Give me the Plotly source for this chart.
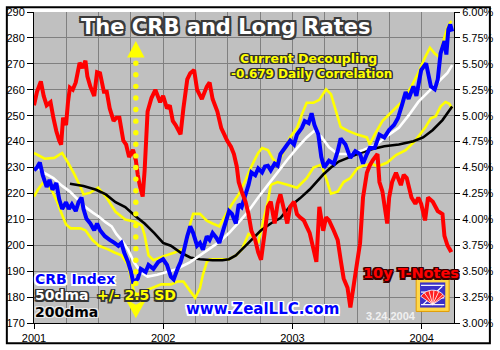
import numpy as np
import plotly.graph_objects as go

# ---- CRB Index (daily close, sampled) ----
crb_t = [2001.000, 2001.023, 2001.045, 2001.068, 2001.098, 2001.120, 2001.143, 2001.173, 2001.195, 2001.218,
         2001.248, 2001.270, 2001.293, 2001.323, 2001.345, 2001.368, 2001.383, 2001.406, 2001.436, 2001.466,
         2001.488, 2001.511, 2001.548, 2001.586, 2001.623, 2001.653, 2001.676, 2001.698, 2001.728, 2001.751,
         2001.766, 2001.788, 2001.803, 2001.826, 2001.864, 2001.886, 2001.924, 2001.961, 2001.999, 2002.029,
         2002.059, 2002.081, 2002.111, 2002.134, 2002.156, 2002.186, 2002.209, 2002.232, 2002.262, 2002.284,
         2002.307, 2002.337, 2002.359, 2002.382, 2002.412, 2002.434, 2002.457, 2002.487, 2002.509, 2002.532,
         2002.562, 2002.584, 2002.607, 2002.637, 2002.660, 2002.682, 2002.712, 2002.735, 2002.765, 2002.787,
         2002.810, 2002.832, 2002.862, 2002.885, 2002.907, 2002.945, 2002.982, 2003.012, 2003.035, 2003.073,
         2003.095, 2003.125, 2003.148, 2003.170, 2003.200, 2003.223, 2003.245, 2003.283, 2003.320, 2003.350,
         2003.373, 2003.410, 2003.448, 2003.486, 2003.523, 2003.546, 2003.576, 2003.598, 2003.636, 2003.673,
         2003.711, 2003.748, 2003.786, 2003.816, 2003.846, 2003.876, 2003.899, 2003.936, 2003.959, 2003.996,
         2004.034, 2004.071, 2004.101, 2004.124, 2004.146, 2004.176, 2004.191, 2004.206, 2004.221, 2004.236]
crb_v = [228.9, 230.0, 231.9, 227.0, 222.5, 225.2, 221.4, 224.0, 217.7, 214.0,
         216.6, 214.0, 215.8, 213.2, 216.6, 218.4, 214.0, 210.2, 208.4, 205.8,
         208.4, 205.8, 203.5, 202.1, 200.9, 199.8, 200.9, 197.2, 193.5, 189.7,
         186.0, 186.4, 187.1, 190.9, 189.7, 192.4, 190.9, 193.5, 194.6, 192.4,
         187.9, 186.8, 190.9, 193.5, 197.2, 203.5, 207.3, 204.7, 199.8, 200.9,
         198.3, 203.5, 202.1, 204.7, 202.8, 200.9, 204.7, 209.5, 213.2, 212.1,
         208.4, 215.8, 214.7, 219.6, 223.3, 228.1, 227.0, 229.6, 228.1, 230.4,
         230.7, 228.9, 231.5, 230.7, 235.2, 237.8, 240.4, 238.9, 242.7, 245.3,
         247.9, 247.1, 250.9, 246.4, 242.7, 234.1, 230.0, 232.6, 231.5, 236.3,
         241.2, 238.9, 233.7, 236.3, 235.2, 231.5, 235.2, 237.5, 237.5, 242.7,
         241.6, 244.5, 246.4, 249.0, 253.9, 259.1, 256.5, 261.3, 257.6, 267.6,
         270.2, 261.3, 260.2, 263.9, 274.0, 278.8, 273.6, 283.3, 285.2, 282.5]

# ---- 50-day moving average ----
dma50_t = [2001.008, 2001.083, 2001.150, 2001.218, 2001.278, 2001.338, 2001.398, 2001.458, 2001.503, 2001.556,
           2001.601, 2001.638, 2001.676, 2001.728, 2001.773, 2001.826, 2001.879, 2001.954, 2002.029, 2002.089,
           2002.134, 2002.209, 2002.284, 2002.359, 2002.434, 2002.509, 2002.584, 2002.660, 2002.735, 2002.810,
           2002.885, 2002.960, 2003.035, 2003.110, 2003.170, 2003.223, 2003.283, 2003.350, 2003.448, 2003.546,
           2003.651, 2003.748, 2003.823, 2003.899, 2003.974, 2004.049, 2004.124, 2004.199, 2004.236]
dma50_v = [230.4, 227.8, 225.9, 222.9, 220.7, 217.7, 214.7, 212.5, 211.0, 208.8,
           207.3, 204.3, 202.1, 198.3, 193.5, 189.7, 187.9, 188.6, 189.7, 190.5,
           191.6, 193.5, 196.1, 198.7, 201.3, 204.7, 208.8, 213.2, 218.4, 223.3,
           228.1, 233.0, 237.5, 241.6, 244.2, 241.9, 237.8, 235.2, 235.2, 236.7,
           238.9, 242.7, 245.3, 250.1, 255.3, 259.1, 262.8, 266.5, 269.5]

# ---- 200-day moving average ----
dma200_t = [2001.278, 2001.383, 2001.481, 2001.556, 2001.631, 2001.706, 2001.781, 2001.856, 2001.931, 2001.999,
            2002.059, 2002.134, 2002.209, 2002.284, 2002.382, 2002.457, 2002.509, 2002.562, 2002.607, 2002.660,
            2002.712, 2002.757, 2002.832, 2002.907, 2002.982, 2003.058, 2003.133, 2003.185, 2003.238, 2003.298,
            2003.358, 2003.448, 2003.523, 2003.621, 2003.711, 2003.823, 2003.936, 2004.011, 2004.086, 2004.161,
            2004.236]
dma200_v = [223.7, 222.9, 221.4, 219.6, 216.6, 214.7, 211.4, 208.4, 204.7, 200.9,
            199.8, 197.2, 195.3, 194.6, 194.2, 194.2, 194.6, 196.1, 198.3, 200.9,
            203.5, 205.8, 208.4, 210.5, 215.1, 218.1, 221.5, 224.4, 227.3, 230.0,
            232.3, 234.1, 235.6, 237.1, 238.2, 238.9, 240.1, 241.6, 244.5, 248.3,
            253.5]

# ---- 50dma +2.5 SD band ----
upper_t = [2001.000, 2001.083, 2001.158, 2001.218, 2001.255, 2001.308, 2001.360, 2001.383, 2001.436, 2001.496,
           2001.556, 2001.631, 2001.706, 2001.781, 2001.834, 2001.856, 2001.886, 2001.924, 2001.999, 2002.089,
           2002.156, 2002.186, 2002.209, 2002.232, 2002.284, 2002.337, 2002.382, 2002.434, 2002.487, 2002.532,
           2002.584, 2002.637, 2002.675, 2002.712, 2002.735, 2002.765, 2002.810, 2002.847, 2002.885, 2002.937,
           2002.982, 2003.035, 2003.073, 2003.110, 2003.163, 2003.208, 2003.260, 2003.298, 2003.335, 2003.373,
           2003.426, 2003.501, 2003.576, 2003.598, 2003.636, 2003.696, 2003.771, 2003.846, 2003.921, 2003.974,
           2004.026, 2004.064, 2004.101, 2004.139, 2004.161, 2004.199, 2004.229]
upper_v = [235.6, 233.4, 233.7, 235.6, 232.6, 227.8, 222.5, 219.6, 220.3, 222.2,
           218.8, 212.9, 209.9, 209.1, 207.6, 203.9, 196.1, 194.2, 195.7, 197.2,
           198.7, 202.1, 208.4, 212.1, 212.1, 209.5, 208.4, 207.3, 212.1, 215.8,
           219.6, 225.2, 229.6, 233.4, 235.6, 237.5, 236.7, 233.4, 231.5, 236.7,
           241.6, 245.3, 250.5, 255.0, 255.0, 256.1, 260.2, 258.3, 252.0, 245.7,
           244.2, 242.7, 241.6, 238.9, 242.7, 247.9, 251.6, 255.3, 261.3, 266.5,
           272.5, 276.2, 274.0, 272.5, 277.7, 284.0, 286.6]

# ---- 50dma -2.5 SD band ----
lower_t = [2001.000, 2001.030, 2001.068, 2001.105, 2001.143, 2001.180, 2001.218, 2001.248, 2001.285, 2001.360,
           2001.398, 2001.451, 2001.503, 2001.578, 2001.623, 2001.676, 2001.728, 2001.751, 2001.781, 2001.834,
           2001.909, 2001.984, 2002.059, 2002.111, 2002.156, 2002.209, 2002.247, 2002.284, 2002.307, 2002.337,
           2002.359, 2002.434, 2002.509, 2002.562, 2002.607, 2002.660, 2002.690, 2002.735, 2002.757, 2002.787,
           2002.810, 2002.832, 2002.885, 2002.960, 2003.035, 2003.110, 2003.163, 2003.223, 2003.260, 2003.298,
           2003.350, 2003.396, 2003.448, 2003.501, 2003.546, 2003.613, 2003.658, 2003.733, 2003.801, 2003.876,
           2003.951, 2004.026, 2004.071, 2004.109, 2004.146, 2004.184, 2004.214, 2004.236]
lower_v = [218.8, 221.4, 224.0, 223.3, 220.7, 216.6, 211.7, 208.0, 206.5, 206.5,
           205.8, 202.1, 199.8, 198.3, 197.2, 196.1, 192.4, 187.1, 180.4, 181.9,
           183.4, 184.9, 184.9, 186.0, 186.0, 182.3, 179.7, 183.4, 188.6, 193.5,
           194.6, 194.6, 194.6, 196.1, 198.3, 204.3, 203.5, 200.9, 205.8, 212.1,
           217.0, 223.3, 224.4, 223.3, 222.2, 225.9, 230.0, 231.1, 225.9, 219.9,
           220.7, 224.4, 225.9, 229.6, 230.7, 231.5, 230.4, 231.9, 234.8, 236.7,
           240.4, 245.3, 249.0, 249.8, 253.5, 255.3, 254.6, 252.7]

# ---- 10-year Treasury note yield (%) ----
rate_t = [2001.000, 2001.023, 2001.053, 2001.075, 2001.098, 2001.128, 2001.150, 2001.173, 2001.195, 2001.210,
          2001.225, 2001.248, 2001.263, 2001.278, 2001.300, 2001.323, 2001.353, 2001.375, 2001.398, 2001.413,
          2001.436, 2001.466, 2001.488, 2001.511, 2001.541, 2001.563, 2001.586, 2001.616, 2001.638, 2001.661,
          2001.691, 2001.713, 2001.736, 2001.766, 2001.788, 2001.803, 2001.818, 2001.841, 2001.856, 2001.879,
          2001.909, 2001.939, 2001.976, 2001.999, 2002.029, 2002.051, 2002.074, 2002.096, 2002.134, 2002.156,
          2002.186, 2002.209, 2002.239, 2002.262, 2002.299, 2002.337, 2002.359, 2002.382, 2002.419, 2002.449,
          2002.472, 2002.494, 2002.524, 2002.547, 2002.569, 2002.584, 2002.607, 2002.637, 2002.660, 2002.682,
          2002.712, 2002.735, 2002.757, 2002.787, 2002.810, 2002.832, 2002.862, 2002.885, 2002.907, 2002.937,
          2002.960, 2002.982, 2003.012, 2003.035, 2003.058, 2003.088, 2003.110, 2003.133, 2003.163, 2003.185,
          2003.208, 2003.238, 2003.260, 2003.283, 2003.320, 2003.350, 2003.373, 2003.396, 2003.426, 2003.448,
          2003.471, 2003.501, 2003.523, 2003.546, 2003.576, 2003.598, 2003.621, 2003.658, 2003.673, 2003.696,
          2003.733, 2003.748, 2003.771, 2003.801, 2003.839, 2003.861, 2003.884, 2003.921, 2003.951, 2003.974,
          2003.996, 2004.026, 2004.049, 2004.086, 2004.124, 2004.161, 2004.176, 2004.199, 2004.221, 2004.236]
rate_v = [5.10, 5.23, 5.33, 5.19, 5.10, 5.13, 4.98, 4.85, 4.76, 4.72,
          4.98, 4.91, 5.13, 5.27, 5.25, 5.32, 5.51, 5.46, 5.53, 5.38,
          5.28, 5.19, 5.42, 5.41, 5.23, 5.23, 5.07, 4.95, 4.98, 4.98,
          4.76, 4.72, 4.60, 4.67, 4.57, 4.43, 4.33, 4.22, 4.47, 5.04,
          5.17, 5.25, 5.13, 5.19, 5.07, 5.10, 4.95, 4.91, 4.82, 5.07,
          5.35, 5.41, 5.44, 5.25, 5.16, 5.28, 5.32, 5.16, 5.04, 4.88,
          4.82, 4.76, 4.70, 4.63, 4.51, 4.36, 4.27, 4.17, 4.05, 3.89,
          3.80, 3.68, 3.61, 3.89, 4.12, 4.17, 3.96, 4.15, 4.24, 4.08,
          3.96, 4.12, 4.17, 4.05, 4.02, 3.99, 3.93, 3.87, 3.71, 3.59,
          4.12, 3.89, 4.02, 3.99, 3.89, 3.80, 3.61, 3.43, 3.34, 3.15,
          3.34, 3.59, 3.77, 4.21, 4.45, 4.52, 4.57, 4.63, 4.36, 4.27,
          3.96, 4.21, 4.36, 4.45, 4.33, 4.43, 4.40, 4.21, 4.15, 4.21,
          4.15, 3.99, 4.21, 4.17, 4.08, 4.05, 3.84, 3.75, 3.70, 3.71]

year_ticks = [2001, 2002, 2003, 2004]

# ---- canvas geometry ----
W, H = 500, 350
ML, MR, MT, MB = 29, 38, 6, 22
PW, PH = W - ML - MR, H - MT - MB


def px(x):
    """pixel column -> paper x"""
    return (x - ML) / PW


def py(y):
    """pixel row -> paper y"""
    return (H - MB - y) / PH


def halo(color, w=1.5):
    offs = [(-w, -w), (w, -w), (-w, w), (w, w), (0, w), (w, 0), (0, -w), (-w, 0)]
    return ", ".join(f"{dx}px {dy}px 0 {color}" for dx, dy in offs)


fig = go.Figure()

line_traces = [
    (upper_t, upper_v, "#ffff00", 2.6),
    (lower_t, lower_v, "#ffff00", 2.6),
    (dma200_t, dma200_v, "#000000", 2.6),
    (dma50_t, dma50_v, "#ffffff", 2.6),
    (crb_t, crb_v, "#0000ff", 4),
]
for tx, vy, col, wd in line_traces:
    fig.add_trace(go.Scatter(x=tx, y=vy, mode="lines", line=dict(color=col, width=wd, simplify=False),
                             hoverinfo="skip"))

fig.add_trace(go.Scatter(x=rate_t, y=rate_v, yaxis="y2", mode="lines",
                         line=dict(color="#ff0000", width=4, simplify=False), hoverinfo="skip"))

grid = "#808080"
fig.update_layout(
    width=W, height=H,
    margin=dict(l=ML, r=MR, t=MT, b=MB),
    paper_bgcolor="white",
    plot_bgcolor="#c0c0c0",
    showlegend=False,
    font=dict(family="Liberation Sans, Arial, sans-serif", size=11, color="black"),
    xaxis=dict(range=[2001, 2004.25], tickmode="linear", tick0=2001, dtick=1, tickformat="d",
               ticks="outside", ticklen=5, tickcolor="black", showline=True, linecolor="black",
               linewidth=1, showgrid=True, gridcolor=grid, gridwidth=1, zeroline=False,
               ticklabeloverflow="allow",
               minor=dict(tick0=2001, dtick=0.25, showgrid=True, gridcolor=grid, gridwidth=1)),
    yaxis=dict(range=[170, 290], tick0=170, dtick=10, ticks="outside", ticklen=6,
               tickcolor="black", showline=True, linecolor="black", linewidth=1,
               showgrid=True, gridcolor=grid, gridwidth=1, zeroline=False,
               ticklabeloverflow="allow"),
    yaxis2=dict(range=[3, 6], tick0=3, dtick=0.25, overlaying="y", side="right",
                tickformat=".2f", ticksuffix="%", ticks="outside", ticklen=5,
                tickcolor="black", showline=True, linecolor="black", linewidth=1,
                showgrid=False, zeroline=False, ticklabeloverflow="allow"),
)

bold = "DejaVu Sans, Verdana, sans-serif"
dark = "#333333"
anns = [
    dict(text="The CRB and Long Rates", x=px(226), y=py(22), xanchor="center", yanchor="middle",
         font=dict(family=bold, size=21, color="white", weight="bold", shadow=halo("#3a3a3a", 2))),
    dict(text="Current Decoupling", x=px(312), y=py(54), xanchor="center", yanchor="middle",
         font=dict(family=bold, size=12.5, color="#ffff00", weight="bold", shadow=halo(dark, 1.3))),
    dict(text="-0.679 Daily Correlation", x=px(315), y=py(70), xanchor="center", yanchor="middle",
         font=dict(family=bold, size=12, color="#ffff00", weight="bold", shadow=halo(dark, 1.3))),
    dict(text="CRB Index", x=px(28), y=py(282), xanchor="left", yanchor="middle",
         font=dict(family=bold, size=14, color="#0000ff", weight="bold", shadow=halo("#ffffff", 1.5))),
    dict(text="50dma", x=px(28), y=py(299.5), xanchor="left", yanchor="middle",
         font=dict(family=bold, size=14, color="white", weight="bold", shadow=halo(dark, 1.5))),
    dict(text="+/- 2.5 SD", x=px(92), y=py(299.5), xanchor="left", yanchor="middle",
         font=dict(family=bold, size=14, color="#ffff00", weight="bold", shadow=halo(dark, 1.5))),
    dict(text="200dma", x=px(28), y=py(317), xanchor="left", yanchor="middle",
         font=dict(family=bold, size=14, color="black", weight="bold", shadow=halo("#e8e8e8", 1.2))),
    dict(text="www.ZealLLC.com", x=px(265), y=py(313), xanchor="center", yanchor="middle",
         font=dict(family=bold, size=15, color="#0000ff", weight="bold", shadow=halo("#ffffff", 1.5))),
    dict(text="10y T-Notes", x=px(418), y=py(276), xanchor="center", yanchor="middle",
         font=dict(family=bold, size=14.5, color="#ff0000", weight="bold", shadow=halo("#3a0000", 1.5))),
    dict(text="3.24.2004", x=px(397), y=py(321), xanchor="center", yanchor="middle",
         font=dict(family="Liberation Sans, Arial, sans-serif", size=11, color="#f0f0f0",
                   weight="bold")),
]
for a in anns:
    a.update(xref="paper", yref="paper", showarrow=False)
fig.update_layout(annotations=anns)


def path(points, close=True):
    s = "M " + " L ".join(f"{px(x):.5f},{py(y):.5f}" for x, y in points)
    return s + (" Z" if close else "")


shapes = []
yellow = "#ffff00"

# dotted vertical arrow
ax = 134
for yy in np.arange(59, 301, 12):
    shapes.append(dict(type="circle", xref="paper", yref="paper",
                       x0=px(ax - 2.8), x1=px(ax + 2.8), y0=py(yy + 2.8), y1=py(yy - 2.8),
                       fillcolor=yellow, line=dict(width=0)))
shapes.append(dict(type="path", xref="paper", yref="paper",
                   path=path([(ax, 36), (ax - 9, 53), (ax + 9, 53)]),
                   fillcolor=yellow, line=dict(width=0)))
shapes.append(dict(type="path", xref="paper", yref="paper",
                   path=path([(ax - 11, 303), (ax, 309), (ax + 11, 303), (ax, 323)]),
                   fillcolor=yellow, line=dict(width=0)))

# logo badge
shapes.append(dict(type="rect", xref="paper", yref="paper",
                   x0=px(423), x1=px(457), y0=py(316), y1=py(282),
                   fillcolor="#ffd84a", line=dict(color="#e09a00", width=1)))
shapes.append(dict(type="rect", xref="paper", yref="paper",
                   x0=px(427), x1=px(453), y0=py(312), y1=py(286),
                   fillcolor="#3a30c8", line=dict(width=0)))
for seg in [[(428, 289), (452, 289)], [(450, 290), (430, 309)], [(428, 309), (452, 309)],
            [(428, 296), (436, 296)], [(444, 302), (452, 302)]]:
    shapes.append(dict(type="path", xref="paper", yref="paper", path=path(seg, close=False),
                       line=dict(color="white", width=1.2)))
ang = np.linspace(np.radians(35), np.radians(145), 12)
fan = [(440, 309)] + [(440 + 15 * np.cos(a), 309 - 15 * np.sin(a)) for a in ang]
shapes.append(dict(type="path", xref="paper", yref="paper", path=path(fan),
                   fillcolor="#ff2020", line=dict(color="white", width=0.8)))
for a in ang[1:-1:2]:
    shapes.append(dict(type="path", xref="paper", yref="paper",
                       path=path([(440, 309), (440 + 15 * np.cos(a), 309 - 15 * np.sin(a))], close=False),
                       line=dict(color="white", width=0.8)))

# outer frame
shapes.append(dict(type="rect", xref="paper", yref="paper",
                   x0=px(1), x1=px(W - 1), y0=py(H - 1), y1=py(1),
                   line=dict(color="black", width=2), fillcolor="rgba(0,0,0,0)", layer="above"))

fig.update_layout(shapes=shapes)

fig.write_html("out.html")
